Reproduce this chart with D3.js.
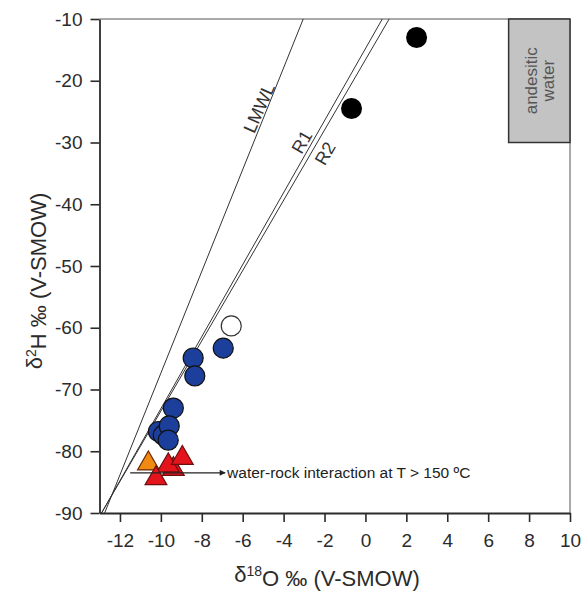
<!DOCTYPE html>
<html>
<head>
<meta charset="utf-8">
<script src="https://cdn.jsdelivr.net/npm/d3@7"></script>
<style>
  html, body { margin: 0; padding: 0; background: #fff; }
  svg { display: block; }
  text { font-family: "Liberation Sans", Arial, Helvetica, sans-serif; fill: #2b2b2b; }
</style>
</head>
<body>
<svg id="chart" width="582" height="592"></svg>
<script>
// ---- data (δ18O ‰, δ2H ‰) ----
const xTicks = [-12, -10, -8, -6, -4, -2, 0, 2, 4, 6, 8, 10];
const yTicks = [-90, -80, -70, -60, -50, -40, -30, -20, -10];

const blueO  = [-6.95, -8.42, -8.34, -9.39, -10.12, -9.88, -9.59, -9.64];
const blueH  = [-63.3, -64.9, -67.8, -73.0, -76.8, -77.4, -75.9, -78.2];
const openO  = [-6.56];
const openH  = [-59.7];
const blackO = [2.5, -0.68];
const blackH = [-13.0, -24.5];
const orangeO = [-10.61];
const orangeH = [-82.0];
const redO = [-9.39, -9.64, -8.95, -10.24];
const redH = [-82.9, -82.3, -81.1, -84.4];

// reference lines: δ2H = slope * δ18O + intercept
const lineNames = ["LMWL", "R1", "R2"];
const lineSlopes = [8.24, 5.83, 5.69];
const lineIntercepts = [15.05, -14.8, -16.6];

// andesitic water field
const andesiticO = [7, 10];
const andesiticH = [-30, -10];

// water-rock interaction arrow
const arrowO = [-11.5, -6.86];
const arrowH = [-83.5, -83.5];
const arrowLabel = "water-rock interaction at T > 150 ºC";

// ---- layout ----
const svg = d3.select("#chart");
const x = d3.scaleLinear().domain([-13, 10]).range([99.5, 570]);
const y = d3.scaleLinear().domain([-90, -10]).range([513, 19]);

// label anchor positions (data units) and angles
const lineLabelPos = [[-5.2, -24.4, -66], [-3.11, -29.9, -60], [-1.97, -31.75, -60]];

svg.append("defs").append("marker")
  .attr("id", "arrowhead")
  .attr("viewBox", "0 0 10 10")
  .attr("refX", 9).attr("refY", 5)
  .attr("markerWidth", 7).attr("markerHeight", 6)
  .attr("markerUnits", "userSpaceOnUse")
  .attr("orient", "auto")
  .append("path").attr("d", "M0,0 L10,5 L0,10 Z").attr("fill", "#222");

// frame (top and right)
svg.append("line").attr("x1", x(-13)).attr("x2", x(10)).attr("y1", y(-10)).attr("y2", y(-10))
  .attr("stroke", "#555").attr("stroke-width", 1);
svg.append("line").attr("x1", x(10)).attr("x2", x(10)).attr("y1", y(-10)).attr("y2", y(-90))
  .attr("stroke", "#555").attr("stroke-width", 1);

// andesitic water box
svg.append("rect")
  .attr("x", x(andesiticO[0])).attr("y", y(andesiticH[1]))
  .attr("width", x(andesiticO[1]) - x(andesiticO[0]))
  .attr("height", y(andesiticH[0]) - y(andesiticH[1]))
  .attr("fill", "#c3c3c3").attr("stroke", "#333").attr("stroke-width", 1.5);
const bx = (x(andesiticO[0]) + x(andesiticO[1])) / 2;
const by = (y(andesiticH[0]) + y(andesiticH[1])) / 2;
const bt = svg.append("text").attr("transform", `translate(${bx + 1},${by}) rotate(-90)`)
  .attr("text-anchor", "middle").style("font-size", "17px").style("fill", "#555");
bt.append("tspan").attr("x", 0).attr("dy", "-0.22em").text("andesitic");
bt.append("tspan").attr("x", 0).attr("dy", "1.05em").text("water");

// reference lines
lineNames.forEach((n, i) => {
  const s = lineSlopes[i], b = lineIntercepts[i];
  const o1 = (-90 - b) / s, o2 = (-10 - b) / s;
  svg.append("line")
    .attr("x1", x(o1)).attr("y1", y(-90)).attr("x2", x(o2)).attr("y2", y(-10))
    .attr("stroke", "#333").attr("stroke-width", 1);
  const p = lineLabelPos[i];
  svg.append("text")
    .attr("transform", `translate(${x(p[0])},${y(p[1])}) rotate(${p[2]})`)
    .attr("text-anchor", "middle").attr("dy", "0.35em")
    .style("font-size", "18px").style("fill", "#333")
    .text(n);
});

// points
const g = svg.append("g");
g.selectAll("circle.blue").data(blueO.map((o, i) => [o, blueH[i]])).enter()
  .append("circle").attr("cx", d => x(d[0])).attr("cy", d => y(d[1])).attr("r", 10)
  .attr("fill", "#1c3f9c").attr("stroke", "#111").attr("stroke-width", 1.2);
g.selectAll("circle.open").data(openO.map((o, i) => [o, openH[i]])).enter()
  .append("circle").attr("cx", d => x(d[0])).attr("cy", d => y(d[1])).attr("r", 10)
  .attr("fill", "#fff").attr("stroke", "#333").attr("stroke-width", 1.2);
g.selectAll("circle.black").data(blackO.map((o, i) => [o, blackH[i]])).enter()
  .append("circle").attr("cx", d => x(d[0])).attr("cy", d => y(d[1])).attr("r", 10.5)
  .attr("fill", "#000");

const tri = d3.symbol().type(d3.symbolTriangle).size(205);
g.selectAll("path.orange").data(orangeO.map((o, i) => [o, orangeH[i]])).enter()
  .append("path").attr("d", tri).attr("transform", d => `translate(${x(d[0])},${y(d[1])})`)
  .attr("fill", "#f08a12").attr("stroke", "#6a2a08").attr("stroke-width", 1.2);
g.selectAll("path.red").data(redO.map((o, i) => [o, redH[i]])).enter()
  .append("path").attr("d", tri).attr("transform", d => `translate(${x(d[0])},${y(d[1])})`)
  .attr("fill", "#e3141b").attr("stroke", "#6b0e0e").attr("stroke-width", 1.2);

// arrow
svg.append("line")
  .attr("x1", x(arrowO[0])).attr("y1", y(arrowH[0]))
  .attr("x2", x(arrowO[1])).attr("y2", y(arrowH[1]))
  .attr("stroke", "#222").attr("stroke-width", 1.2)
  .attr("marker-end", "url(#arrowhead)");
svg.append("text").attr("x", x(arrowO[1]) + 2).attr("y", y(arrowH[1])).attr("dy", "0.35em")
  .style("font-size", "15.5px").style("fill", "#222").text(arrowLabel);

// axes
const xAxis = d3.axisBottom(x).tickValues(xTicks).tickSize(9).tickSizeOuter(0).tickPadding(12)
  .tickFormat(d3.format("d"));
const yAxis = d3.axisLeft(y).tickValues(yTicks).tickSize(9).tickSizeOuter(0).tickPadding(8)
  .tickFormat(d3.format("d"));
const gx = svg.append("g").attr("transform", `translate(0,${y(-90)})`).call(xAxis);
const gy = svg.append("g").attr("transform", `translate(${x(-13)},0)`).call(yAxis);
[gx, gy].forEach(a => {
  a.select(".domain").attr("stroke", "#2b2b2b").attr("stroke-width", 1.8);
  a.selectAll(".tick line").attr("stroke", "#2b2b2b").attr("stroke-width", 1.6);
  a.selectAll(".tick text").style("font-size", "19px").style("fill", "#2b2b2b")
    .style("font-family", "'Liberation Sans', Arial, sans-serif");
});
gx.selectAll(".tick text").text(d => d < 0 ? "-" + Math.abs(d) : d);
gy.selectAll(".tick text").text(d => d < 0 ? "-" + Math.abs(d) : d);

// axis titles
const xt = svg.append("text").attr("x", 327).attr("y", 582).attr("text-anchor", "middle")
  .style("font-size", "22px");
xt.append("tspan").text("δ");
xt.append("tspan").attr("dy", "-0.45em").style("font-size", "14px").text("18");
xt.append("tspan").attr("dy", "0.45em").text("O ‰ (V-SMOW)");

const yt = svg.append("text").attr("transform", "translate(42,281) rotate(-90)")
  .attr("text-anchor", "middle").style("font-size", "22px");
yt.append("tspan").text("δ");
yt.append("tspan").attr("dy", "-0.45em").style("font-size", "14px").text("2");
yt.append("tspan").attr("dy", "0.45em").text("H ‰ (V-SMOW)");
</script>
</body>
</html>
